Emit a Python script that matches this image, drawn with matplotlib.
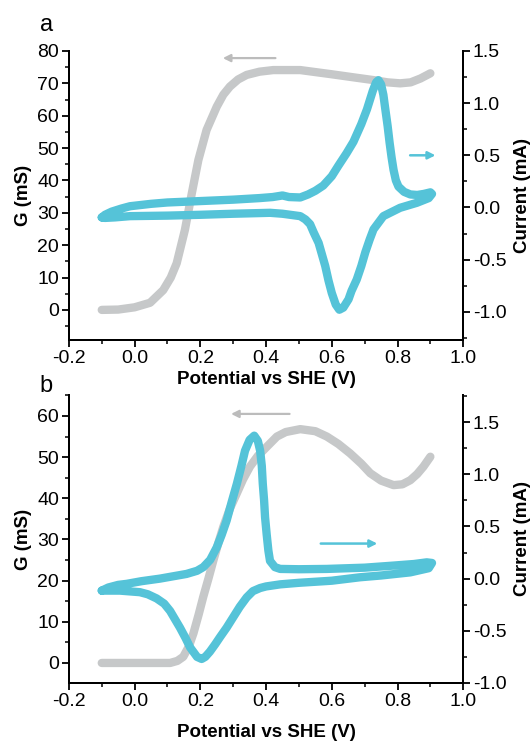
# Conductance (G) and CV current vs potential, two panels

import matplotlib
matplotlib.use('Agg')
import matplotlib.pyplot as plt
from matplotlib.ticker import MultipleLocator, FormatStrFormatter

plt.rcParams['font.family'] = ['Liberation Sans', 'DejaVu Sans']
plt.rcParams['axes.unicode_minus'] = False

# Panel a data
a_g_x = [-0.10, -0.05, 0.00, 0.047, 0.087, 0.11, 0.128, 0.153, 0.174, 0.194, 0.219,
         0.25, 0.27, 0.29, 0.315, 0.341, 0.38, 0.422, 0.504, 0.60, 0.67, 0.727,
         0.77, 0.808, 0.84, 0.87, 0.90]
a_g_y = [0.0, 0.1, 0.8, 2.2, 6.1, 10.0, 14.4, 24.7, 36.0, 46.3, 55.6,
         62.8, 66.5, 69.0, 71.2, 72.6, 73.6, 74.1, 74.1, 72.8, 71.8, 71.0,
         70.3, 70.0, 70.3, 71.5, 73.1]

a_cv_x = [-0.10, -0.09, -0.07, -0.04, -0.014, 0.05, 0.10, 0.189, 0.30, 0.38, 0.42,
          0.45, 0.47, 0.504, 0.528, 0.55, 0.574, 0.60, 0.62, 0.645, 0.666, 0.69,
          0.707, 0.725, 0.735, 0.742, 0.75, 0.757, 0.763, 0.770, 0.776, 0.782,
          0.788, 0.795, 0.803, 0.82, 0.839, 0.86, 0.88, 0.90, 0.905, 0.895,
          0.859, 0.808, 0.757, 0.727, 0.715, 0.702, 0.69, 0.676, 0.66, 0.651,
          0.635, 0.623, 0.612, 0.60, 0.59, 0.58, 0.57, 0.56, 0.545, 0.534,
          0.52, 0.504, 0.45, 0.412, 0.30, 0.20, 0.10, -0.014, -0.06, -0.09, -0.10]
a_cv_i = [-0.095, -0.07, -0.04, -0.01, 0.012, 0.035, 0.048, 0.06, 0.075, 0.09, 0.10,
          0.115, 0.10, 0.096, 0.125, 0.16, 0.21, 0.30, 0.40, 0.52, 0.63, 0.80,
          0.94, 1.12, 1.20, 1.22, 1.18, 1.08, 0.94, 0.78, 0.62, 0.48,
          0.36, 0.26, 0.20, 0.15, 0.125, 0.12, 0.13, 0.145, 0.13, 0.09,
          0.045, -0.003, -0.083, -0.21, -0.31, -0.43, -0.56, -0.69, -0.80, -0.88,
          -0.96, -0.98, -0.93, -0.82, -0.70, -0.56, -0.45, -0.34, -0.24, -0.16,
          -0.115, -0.083, -0.06, -0.051, -0.06, -0.07, -0.078, -0.083, -0.095, -0.10, -0.095]

# Panel b data
b_g_x = [-0.10, 0.00, 0.108, 0.13, 0.148, 0.165, 0.179, 0.195, 0.209, 0.225, 0.24,
         0.255, 0.27, 0.29, 0.311, 0.33, 0.351, 0.375, 0.402, 0.433, 0.46, 0.504,
         0.55, 0.585, 0.62, 0.656, 0.69, 0.717, 0.75, 0.788, 0.815, 0.839, 0.86,
         0.879, 0.90]
b_g_y = [0.0, 0.0, 0.0, 0.5, 1.5, 4.0, 7.2, 11.8, 16.1, 20.6, 25.0,
         29.2, 33.1, 37.5, 41.2, 44.6, 47.7, 50.3, 52.5, 55.0, 56.1, 56.8,
         56.3, 55.0, 53.2, 50.9, 48.4, 46.1, 44.3, 43.2, 43.4, 44.4, 45.9,
         47.7, 50.1]

b_cv_x = [-0.10, -0.08, -0.05, -0.024, 0.02, 0.077, 0.158, 0.19, 0.209, 0.23, 0.25,
          0.265, 0.28, 0.295, 0.311, 0.325, 0.336, 0.35, 0.364, 0.375, 0.382,
          0.387, 0.39, 0.394, 0.397, 0.402, 0.407, 0.412, 0.427, 0.443, 0.50,
          0.585, 0.70, 0.788, 0.85, 0.889, 0.905, 0.895, 0.839, 0.75, 0.686,
          0.60, 0.50, 0.443, 0.40, 0.382, 0.36, 0.341, 0.32, 0.30, 0.28, 0.26,
          0.245, 0.229, 0.215, 0.204, 0.19, 0.169, 0.155, 0.138, 0.123, 0.108,
          0.09, 0.067, 0.04, 0.016, -0.045, -0.08, -0.10]
b_cv_i = [-0.115, -0.085, -0.06, -0.05, -0.025, 0.0, 0.045, 0.075, 0.11, 0.18, 0.30,
          0.42, 0.556, 0.73, 0.907, 1.08, 1.226, 1.33, 1.37, 1.32, 1.226,
          1.08, 0.91, 0.75, 0.587, 0.42, 0.27, 0.17, 0.11, 0.093, 0.09,
          0.093, 0.105, 0.125, 0.14, 0.156, 0.15, 0.10, 0.06, 0.03, 0.013,
          -0.02, -0.04, -0.055, -0.075, -0.09, -0.12, -0.18, -0.27, -0.37, -0.47, -0.56,
          -0.63, -0.70, -0.75, -0.77, -0.75, -0.66, -0.57, -0.47, -0.39, -0.31,
          -0.24, -0.19, -0.15, -0.13, -0.115, -0.115, -0.115]

x_ticks = [-0.2, 0.0, 0.2, 0.4, 0.6, 0.8, 1.0]

gray = '#c6c8c9'
cyan = '#55c3d8'

fig = plt.figure(figsize=(5.30, 7.43), dpi=100)

def style_axes(ax, ax2, g_lim, g_step, i_lim, xlab_pad):
    ax.set_xlim(-0.2, 1.0)
    ax.set_ylim(*g_lim)
    ax2.set_ylim(*i_lim)
    ax.set_xticks(x_ticks)
    ax.xaxis.set_minor_locator(MultipleLocator(0.1))
    ax.xaxis.set_major_formatter(FormatStrFormatter('%.1f'))
    ax.yaxis.set_major_locator(MultipleLocator(g_step))
    ax.yaxis.set_minor_locator(MultipleLocator(g_step / 2))
    ax2.yaxis.set_major_locator(MultipleLocator(0.5))
    ax2.yaxis.set_minor_locator(MultipleLocator(0.25))
    ax2.yaxis.set_major_formatter(FormatStrFormatter('%.1f'))
    for a in (ax, ax2):
        a.spines['top'].set_visible(False)
        for s in a.spines.values():
            s.set_linewidth(1.4)
        a.tick_params(which='major', direction='out', length=5, width=1.3,
                      labelsize=14, pad=2)
        a.tick_params(which='minor', direction='out', length=3, width=1.1)
    ax.set_xlabel('Potential vs SHE (V)', fontsize=13.5, fontweight='bold',
                  labelpad=xlab_pad)
    ax.set_ylabel('G (mS)', fontsize=13.5, fontweight='bold', labelpad=4)
    ax2.set_ylabel('Current (mA)', fontsize=13.5, fontweight='bold', labelpad=5)

line_kw = dict(lw=6, solid_capstyle='round', solid_joinstyle='round')

# ---- panel a
ax = fig.add_axes([0.130, 0.5424, 0.744, 0.389])
ax2 = ax.twinx()
ax.plot(a_g_x, a_g_y, color=gray, **line_kw)
ax2.plot(a_cv_x, a_cv_i, color=cyan, **line_kw)
style_axes(ax, ax2, (-9.3, 80), 10, (-1.27, 1.5), 3)
ax.annotate('', xy=(0.26, 77.8), xytext=(0.437, 77.8),
            arrowprops=dict(arrowstyle='-|>', color='#bcbcbc', lw=1.6, mutation_scale=11))
ax2.annotate('', xy=(0.924, 0.5), xytext=(0.83, 0.5),
             arrowprops=dict(arrowstyle='-|>', color=cyan, lw=1.8, mutation_scale=11))
fig.text(0.075, 0.958, 'a', fontsize=17)

# ---- panel b
bx = fig.add_axes([0.130, 0.0808, 0.744, 0.3876])
bx2 = bx.twinx()
bx.plot(b_g_x, b_g_y, color=gray, **line_kw)
bx2.plot(b_cv_x, b_cv_i, color=cyan, **line_kw)
style_axes(bx, bx2, (-4.86, 65.1), 10, (-1.0, 1.76), 10)
bx.annotate('', xy=(0.285, 60.5), xytext=(0.48, 60.5),
            arrowprops=dict(arrowstyle='-|>', color='#bcbcbc', lw=1.6, mutation_scale=11))
bx2.annotate('', xy=(0.747, 0.336), xytext=(0.558, 0.336),
             arrowprops=dict(arrowstyle='-|>', color=cyan, lw=1.8, mutation_scale=11))
fig.text(0.075, 0.472, 'b', fontsize=17)

plt.savefig('out.png', dpi=100)
plt.close()
